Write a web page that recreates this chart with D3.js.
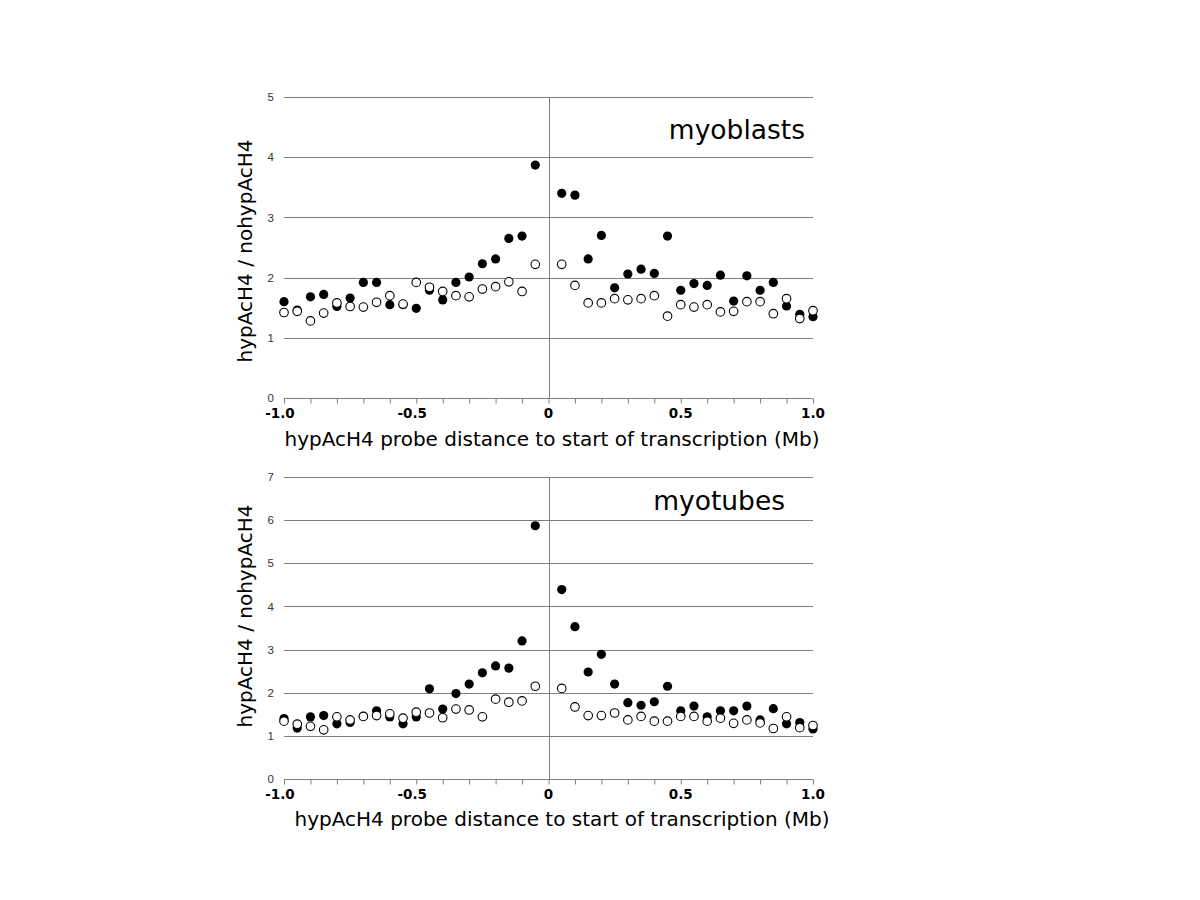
<!DOCTYPE html>
<html>
<head>
<meta charset="utf-8">
<script src="https://cdn.jsdelivr.net/npm/d3@7"></script>
<style>
html,body{margin:0;padding:0;background:#fff;}
svg{display:block;}
</style>
</head>
<body>
<svg id="chart" width="1200" height="900"></svg>
<script>
// x positions (Mb)
const xLeft = [-1.0,-0.95,-0.9,-0.85,-0.8,-0.75,-0.7,-0.65,-0.6,-0.55,-0.5,-0.45,-0.4,-0.35,-0.3,-0.25,-0.2,-0.15,-0.1,-0.05];
const xRight = [0.05,0.1,0.15,0.2,0.25,0.3,0.35,0.4,0.45,0.5,0.55,0.6,0.65,0.7,0.75,0.8,0.85,0.9,0.95,1.0];
const xPositions = xLeft.concat(xRight);

// myoblasts
const myoblastsFilled = [1.60,1.46,1.68,1.72,1.52,1.66,1.92,1.92,1.55,1.55,1.49,1.79,1.63,1.92,2.01,2.23,2.31,2.65,2.69,3.87,
                         3.40,3.37,2.31,2.70,1.83,2.06,2.14,2.07,2.69,1.79,1.90,1.87,2.04,1.61,2.03,1.79,1.92,1.53,1.39,1.35];
const myoblastsOpen   = [1.42,1.44,1.28,1.41,1.58,1.52,1.51,1.59,1.70,1.56,1.92,1.84,1.77,1.70,1.68,1.81,1.85,1.93,1.77,2.22,
                         2.22,1.87,1.58,1.58,1.65,1.63,1.65,1.70,1.36,1.55,1.51,1.55,1.43,1.44,1.60,1.60,1.40,1.65,1.32,1.45];
// myotubes
const myotubesFilled = [1.40,1.18,1.44,1.47,1.28,1.31,1.45,1.58,1.44,1.28,1.44,2.09,1.62,1.98,2.20,2.46,2.62,2.57,3.20,5.87,
                        4.39,3.53,2.48,2.89,2.20,1.77,1.71,1.79,2.15,1.58,1.69,1.44,1.58,1.58,1.69,1.37,1.63,1.28,1.31,1.16];
const myotubesOpen   = [1.34,1.27,1.22,1.14,1.44,1.37,1.45,1.47,1.51,1.41,1.55,1.53,1.42,1.62,1.60,1.44,1.85,1.78,1.81,2.15,
                        2.10,1.67,1.47,1.47,1.53,1.37,1.45,1.34,1.34,1.45,1.45,1.34,1.41,1.29,1.37,1.30,1.17,1.44,1.19,1.24];

const xTickValues = [-1.0,-0.5,0,0.5,1.0];
const xTickLabels = ["-1.0","-0.5","0","0.5","1.0"];
const yTicksTop = [0,1,2,3,4,5];
const yTicksBottom = [0,1,2,3,4,5,6,7];

const svg = d3.select("#chart");
const gridColor = "#7f7f7f";

function panel(cfg) {
  const x = d3.scaleLinear().domain([-1,1]).range([cfg.left, cfg.right]);
  const y = d3.scaleLinear().domain([0, cfg.ymax]).range([cfg.bottom, cfg.top]);
  const g = svg.append("g");

  // horizontal gridlines
  g.selectAll("line.grid").data(cfg.yTicks.filter(d => d > 0)).enter().append("line")
    .attr("x1", cfg.left).attr("x2", cfg.right)
    .attr("y1", d => Math.round(y(d)) + 0.5).attr("y2", d => Math.round(y(d)) + 0.5)
    .attr("stroke", gridColor).attr("stroke-width", 1);

  // x axis (at y=0) with minor ticks every 0.1
  const xAxis = d3.axisBottom(x).tickValues(d3.range(-10, 11).map(i => i / 10)).tickSize(5).tickFormat("");
  const ax = g.append("g").attr("transform", `translate(0,${Math.round(y(0)) + 0.5})`).call(xAxis);
  ax.select(".domain").attr("stroke", gridColor).attr("d", `M${cfg.left},0H${cfg.right}`);
  ax.selectAll(".tick line").attr("stroke", gridColor);

  // x tick labels (number centred on tick, minus sign hanging to the left)
  g.selectAll("text.xl").data(xTickValues).enter().append("text")
    .attr("x", d => x(d) - (d < 0 ? 4 : 0)).attr("y", y(0) + 20)
    .attr("text-anchor", "middle")
    .attr("font-family", "DejaVu Sans, Verdana, sans-serif")
    .attr("font-weight", "bold").attr("font-size", 13.5).attr("fill", "#000")
    .text((d, i) => xTickLabels[i]);

  // y tick labels
  const yAxis = d3.axisLeft(y).tickValues(cfg.yTicks).tickSize(0).tickPadding(0).tickFormat(d3.format("d"));
  const ay = g.append("g").attr("transform", `translate(${cfg.left - 10},0)`).call(yAxis);
  ay.select(".domain").remove();
  ay.selectAll("text").attr("font-family", "Liberation Sans, Arial, sans-serif").attr("font-size", 11.5).attr("fill", "#333");

  // vertical line at 0
  g.append("line")
    .attr("x1", Math.round(x(0)) + 0.5).attr("x2", Math.round(x(0)) + 0.5)
    .attr("y1", cfg.top).attr("y2", y(0))
    .attr("stroke", gridColor).attr("stroke-width", 1);

  // filled points
  g.selectAll("circle.f").data(xPositions).enter().append("circle")
    .attr("cx", d => x(d)).attr("cy", (d, i) => y(cfg.filled[i]))
    .attr("r", 4.6).attr("fill", "#000");
  // open points
  g.selectAll("circle.o").data(xPositions).enter().append("circle")
    .attr("cx", d => x(d)).attr("cy", (d, i) => y(cfg.open[i]))
    .attr("r", 4.3).attr("fill", "#fff").attr("stroke", "#000").attr("stroke-width", 1.1);

  // panel title
  g.append("text").attr("x", cfg.titleX).attr("y", cfg.titleY)
    .attr("text-anchor", "end")
    .attr("font-family", "DejaVu Sans, Verdana, sans-serif").attr("font-size", 26.5).attr("fill", "#000")
    .text(cfg.title);

  // x axis title
  g.append("text").attr("x", cfg.xTitleX).attr("y", cfg.xTitleY)
    .attr("text-anchor", "middle")
    .attr("font-family", "DejaVu Sans, Verdana, sans-serif").attr("font-size", 20).attr("fill", "#000")
    .text("hypAcH4 probe distance to start of transcription (Mb)");

  // y axis title
  g.append("text")
    .attr("transform", `translate(${cfg.yTitleX},${cfg.yTitleY}) rotate(-90)`)
    .attr("text-anchor", "middle")
    .attr("font-family", "DejaVu Sans, Verdana, sans-serif").attr("font-size", 20).attr("fill", "#000")
    .text("hypAcH4 / nohypAcH4");
}

panel({left: 284, right: 813, top: 97, bottom: 398, ymax: 5, yTicks: yTicksTop,
       filled: myoblastsFilled, open: myoblastsOpen, title: "myoblasts", titleX: 805, titleY: 139,
       xTitleX: 552, xTitleY: 446, yTitleX: 252, yTitleY: 251});
panel({left: 284, right: 813, top: 477, bottom: 779, ymax: 7, yTicks: yTicksBottom,
       filled: myotubesFilled, open: myotubesOpen, title: "myotubes", titleX: 785, titleY: 510,
       xTitleX: 562, xTitleY: 826, yTitleX: 252, yTitleY: 616});
</script>
</body>
</html>
